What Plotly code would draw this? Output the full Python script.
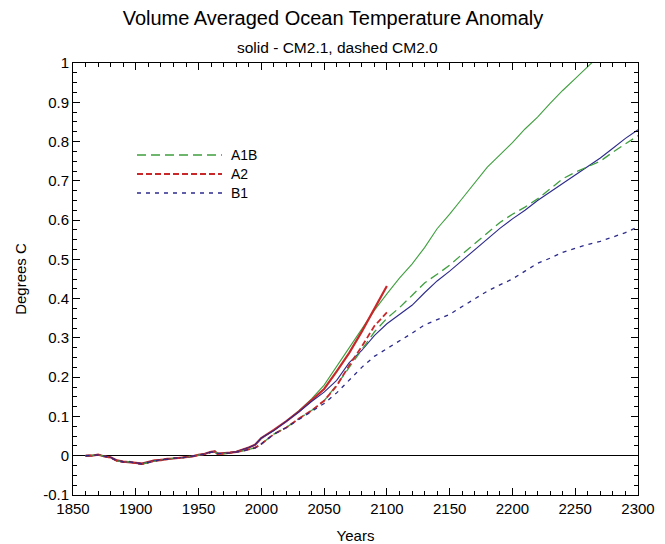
import plotly.graph_objects as go

# ---------------- data ----------------
hist_years = [1860, 1865, 1870, 1875, 1880, 1885, 1890, 1895, 1900, 1905,
              1910, 1915, 1920, 1925, 1930, 1935, 1940, 1945, 1950, 1955,
              1960, 1963, 1965, 1970, 1975, 1980, 1985, 1990, 1995]
hist_cm21 = [0.000, 0.000, 0.003, -0.002, -0.004, -0.012, -0.015, -0.016, -0.018, -0.020,
             -0.016, -0.012, -0.011, -0.008, -0.007, -0.005, -0.004, -0.002, 0.002, 0.005,
             0.010, 0.011, 0.005, 0.006, 0.008, 0.010, 0.015, 0.021, 0.028]
hist_cm20 = [0.000, 0.001, 0.002, -0.001, -0.005, -0.013, -0.016, -0.015, -0.019, -0.021,
             -0.017, -0.013, -0.010, -0.009, -0.006, -0.006, -0.003, -0.001, 0.001, 0.004,
             0.009, 0.010, 0.006, 0.005, 0.007, 0.009, 0.012, 0.016, 0.020]

scen_years = [2000, 2010, 2020, 2030, 2040, 2050, 2060, 2070, 2080, 2090,
              2100, 2110, 2120, 2130, 2140, 2150, 2160, 2170, 2180, 2190,
              2200, 2210, 2220, 2230, 2240, 2250, 2260, 2264]

# CM2.1 (solid)
a1b_cm21 = [0.045, 0.065, 0.088, 0.115, 0.145, 0.180, 0.228, 0.276, 0.322, 0.370,
            0.412, 0.452, 0.488, 0.530, 0.578, 0.615, 0.655, 0.695, 0.735, 0.766,
            0.797, 0.832, 0.862, 0.897, 0.930, 0.960, 0.990, 1.003]
a2_cm21 = [0.045, 0.066, 0.088, 0.113, 0.142, 0.170, 0.215, 0.262, 0.316, 0.375, 0.432]
b1_cm21 = [0.045, 0.064, 0.087, 0.112, 0.138, 0.162, 0.192, 0.237, 0.268, 0.306,
           0.336, 0.360, 0.383, 0.415, 0.445, 0.470, 0.497, 0.523, 0.552, 0.579,
           0.603, 0.625, 0.650, 0.672, 0.693, 0.715, 0.737, 0.758, 0.783, 0.808, 0.830]

# CM2.0 (dashed)
a1b_cm20 = [0.030, 0.055, 0.072, 0.095, 0.115, 0.140, 0.180, 0.225, 0.268, 0.315,
            0.350, 0.377, 0.408, 0.440, 0.462, 0.485, 0.513, 0.540, 0.566, 0.594,
            0.615, 0.633, 0.654, 0.680, 0.705, 0.722, 0.737, 0.750, 0.773, 0.795, 0.815]
a2_cm20 = [0.030, 0.055, 0.072, 0.095, 0.115, 0.140, 0.178, 0.230, 0.278, 0.330, 0.365]
b1_cm20 = [0.030, 0.055, 0.072, 0.093, 0.112, 0.133, 0.160, 0.192, 0.225, 0.253,
           0.272, 0.293, 0.312, 0.333, 0.346, 0.360, 0.380, 0.400, 0.419, 0.435,
           0.450, 0.470, 0.490, 0.503, 0.518, 0.528, 0.538, 0.546, 0.558, 0.568, 0.583]

full_years = list(range(2000, 2301, 10))

y_tickvals = [-0.1, 0, 0.1, 0.2, 0.3, 0.4, 0.5, 0.6, 0.7, 0.8, 0.9, 1.0]
y_ticktext = ["-0.1", "0", "0.1", "0.2", "0.3", "0.4", "0.5", "0.6", "0.7", "0.8", "0.9", "1"]
x_tickvals = [1850, 1900, 1950, 2000, 2050, 2100, 2150, 2200, 2250, 2300]

scenario_names = ["A1B", "A2", "B1"]

# ---------------- styles ----------------
GREEN = "#3f9f3f"
RED = "#c8282a"
BLUE = "#2c2a8c"
FONT = "Liberation Sans, Arial, sans-serif"
COLORS = [GREEN, RED, BLUE]
DASHES = ["9px,5px", "6px,3px", "4px,5px"]
DASH_W = [1.3, 1.8, 1.3]

fig = go.Figure()


def add(x, y, color, width, dash, name):
    fig.add_trace(go.Scatter(x=x, y=y, mode="lines", name=name,
                             line=dict(color=color, width=width, dash=dash),
                             showlegend=False, hoverinfo="skip"))


# solid CM2.1
add(hist_years + scen_years, hist_cm21 + a1b_cm21, GREEN, 1.1, "solid", "A1B CM2.1")
add(hist_years + full_years[:len(a2_cm21)], hist_cm21 + a2_cm21, RED, 2.2, "solid", "A2 CM2.1")
add(hist_years + full_years[:len(b1_cm21)], hist_cm21 + b1_cm21, BLUE, 1.1, "solid", "B1 CM2.1")

# dashed CM2.0
add(hist_years + full_years[:len(a1b_cm20)], hist_cm20 + a1b_cm20, GREEN, DASH_W[0], DASHES[0], "A1B CM2.0")
add(hist_years + full_years[:len(a2_cm20)], hist_cm20 + a2_cm20, RED, DASH_W[1], DASHES[1], "A2 CM2.0")
add(hist_years + full_years[:len(b1_cm20)], hist_cm20 + b1_cm20, BLUE, DASH_W[2], DASHES[2], "B1 CM2.0")

axis_common = dict(showgrid=False, showline=True, linecolor="black", linewidth=1,
                   mirror="ticks", ticks="inside", ticklen=7, tickcolor="black",
                   automargin=False,
                   tickfont=dict(size=15, color="black", family=FONT))

fig.update_layout(
    width=665, height=544,
    margin=dict(l=73, r=27, t=63, b=49, autoexpand=False),
    paper_bgcolor="white", plot_bgcolor="white",
    font=dict(family=FONT, color="black"),
    title=dict(text="Volume Averaged Ocean Temperature Anomaly",
               x=333 / 665, xanchor="center", xref="container", y=1 - 18 / 544, yanchor="middle",
               font=dict(size=20, family=FONT, color="black")),
    xaxis=dict(range=[1850, 2300], tickvals=x_tickvals, zeroline=False,
               minor=dict(dtick=10, ticklen=4, ticks="inside", tickcolor="black"),
               title=dict(text="Years", font=dict(size=15, family=FONT), standoff=14),
               **axis_common),
    yaxis=dict(range=[-0.1, 1.0], tickvals=y_tickvals, ticktext=y_ticktext,
               zeroline=True, zerolinecolor="black", zerolinewidth=1,
               minor=dict(dtick=0.025, tick0=0, ticklen=4, ticks="inside", tickcolor="black"),
               title=dict(text="Degrees C", font=dict(size=15, family=FONT), standoff=12),
               **axis_common),
    showlegend=False,
)

# key (legend) drawn in the upper-left of the plot area
PX = lambda px: (px - 73) / 565
PY = lambda py: (495 - py) / 432
for i, (nm, col) in enumerate(zip(scenario_names, COLORS)):
    row_y = 155 + 19 * i
    fig.add_shape(type="line", xref="paper", yref="paper",
                  x0=PX(137), x1=PX(222), y0=PY(row_y), y1=PY(row_y),
                  line=dict(color=col, width=DASH_W[i], dash=DASHES[i]))
    fig.add_annotation(text=nm, xref="paper", yref="paper", x=PX(229), y=PY(row_y),
                       xanchor="left", yanchor="middle", showarrow=False,
                       font=dict(size=14, family=FONT, color="black"))

fig.add_annotation(text="solid - CM2.1, dashed CM2.0", xref="paper", yref="paper",
                   x=PX(337), y=PY(47), showarrow=False,
                   font=dict(size=15.5, family=FONT, color="black"),
                   xanchor="center", yanchor="middle")

fig.write_html("out.html")
